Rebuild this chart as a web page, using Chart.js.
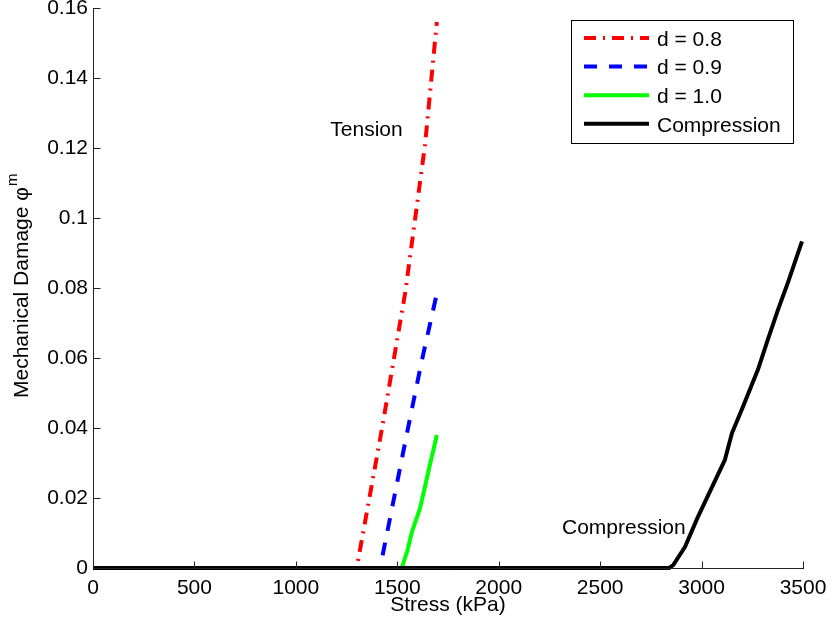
<!DOCTYPE html>
<html>
<head>
<meta charset="utf-8">
<script src="https://cdn.jsdelivr.net/npm/chart.js@4/dist/chart.umd.min.js"></script>
<style>
  html, body { margin: 0; padding: 0; background: #fff; }
  #wrap { width: 833px; height: 633px; }
</style>
</head>
<body>
<div id="wrap"><canvas id="c" width="833" height="633"></canvas></div>
<script>
// Axis ticks
const xTicks = [0, 500, 1000, 1500, 2000, 2500, 3000, 3500];
const yTicks = [0, 0.02, 0.04, 0.06, 0.08, 0.1, 0.12, 0.14, 0.16];

// Series names
const seriesLabels = ['d = 0.8', 'd = 0.9', 'd = 1.0', 'Compression'];

// Tension, d = 0.8
const d08Stress = [0, 1300, 1425, 1540, 1637, 1695];
const d08Damage = [0, 0, 0.040, 0.079, 0.121, 0.156];

// Tension, d = 0.9
const d09Stress = [0, 1415, 1553, 1620, 1696];
const d09Damage = [0, 0, 0.040, 0.059, 0.0787];

// Tension, d = 1.0
const d10Stress = [0, 1522, 1550, 1572, 1612, 1661, 1695];
const d10Damage = [0, 0, 0.005, 0.0103, 0.017, 0.0295, 0.038];

// Compression
const compStress = [0, 2840, 2860, 2918, 2982, 3115, 3150, 3204, 3278, 3327, 3377, 3426, 3495];
const compDamage = [0, 0, 0.0008, 0.006, 0.0146, 0.0309, 0.0386, 0.0461, 0.0567, 0.0653, 0.0738, 0.0816, 0.0933];

// Text labels placed in data coordinates
const noteTexts = ['Tension', 'Compression'];
const noteStress = [1170, 2312];
const noteDamage = [0.125, 0.0115];

const FONT = "'Liberation Sans', Arial, Helvetica, sans-serif";
const FSIZE = 21;

function pts(xs, ys) { return xs.map((x, i) => ({ x: x, y: ys[i] })); }

// Inward tick marks and the two axis lines, drawn over the data
const matAxes = {
  id: 'matAxes',
  afterDatasetsDraw(chart) {
    const { ctx, chartArea: a, scales } = chart;
    const L = Math.round(a.left) + 0.5, B = Math.round(a.bottom) + 0.5;
    ctx.save();
    ctx.strokeStyle = '#222';
    ctx.lineWidth = 1;
    ctx.beginPath();
    ctx.moveTo(L, Math.round(a.top));
    ctx.lineTo(L, B);
    ctx.lineTo(Math.round(a.right) + 1, B);
    xTicks.forEach(v => {
      const px = Math.round(scales.x.getPixelForValue(v)) + 0.5;
      ctx.moveTo(px, B);
      ctx.lineTo(px, B - 7);
    });
    yTicks.forEach(v => {
      const py = Math.round(scales.y.getPixelForValue(v)) + 0.5;
      ctx.moveTo(L, py);
      ctx.lineTo(L + 7, py);
    });
    ctx.stroke();
    ctx.restore();
  }
};

// Free text notes, rotated y title with superscript, boxed legend
const extras = {
  id: 'extras',
  afterDraw(chart) {
    const { ctx, scales } = chart;
    ctx.save();
    ctx.fillStyle = '#000';
    ctx.font = FSIZE + 'px ' + FONT;
    ctx.textBaseline = 'middle';
    ctx.textAlign = 'left';
    noteTexts.forEach((t, i) => {
      ctx.fillText(t, scales.x.getPixelForValue(noteStress[i]), scales.y.getPixelForValue(noteDamage[i]));
    });

    // y title
    ctx.save();
    ctx.translate(22, 398);
    ctx.rotate(-Math.PI / 2);
    const base = 'Mechanical Damage \u03C6';
    ctx.fillText(base, 0, 0);
    const w = ctx.measureText(base).width;
    ctx.font = '15px ' + FONT;
    ctx.fillText('m', w + 1, -9);
    ctx.restore();

    // legend
    const bx = 571.5, by = 20.5, bw = 222, bh = 123;
    ctx.fillStyle = '#fff';
    ctx.fillRect(bx, by, bw, bh);
    ctx.strokeStyle = '#000';
    ctx.lineWidth = 1;
    ctx.strokeRect(bx, by, bw, bh);
    ctx.font = FSIZE + 'px ' + FONT;
    ctx.fillStyle = '#000';
    chart.data.datasets.forEach((ds, i) => {
      const cy = 40 + i * 28.6;
      const ly = cy - 2;
      ctx.save();
      ctx.strokeStyle = ds.borderColor;
      ctx.lineWidth = ds.borderWidth;
      ctx.setLineDash(ds.borderDash || []);
      ctx.beginPath();
      ctx.moveTo(584, ly);
      ctx.lineTo(649, ly);
      ctx.stroke();
      ctx.restore();
      ctx.fillText(ds.label, 657, cy);
    });
    ctx.restore();
  }
};

const tickFont = { family: FONT, size: FSIZE };

new Chart(document.getElementById('c'), {
  type: 'line',
  data: {
    datasets: [
      { label: seriesLabels[0], data: pts(d08Stress, d08Damage), borderColor: '#ff0000', borderDash: [12, 7, 2, 7], order: 3 },
      { label: seriesLabels[1], data: pts(d09Stress, d09Damage), borderColor: '#0000ff', borderDash: [13, 12], order: 2 },
      { label: seriesLabels[2], data: pts(d10Stress, d10Damage), borderColor: '#00ff00', borderDash: [], order: 1 },
      { label: seriesLabels[3], data: pts(compStress, compDamage), borderColor: '#000000', borderDash: [], order: 0 }
    ].map(d => Object.assign({
      borderWidth: 4, pointRadius: 0, tension: 0, fill: false, clip: false,
      borderJoinStyle: 'round'
    }, d))
  },
  options: {
    responsive: false,
    animation: false,
    events: [],
    layout: { padding: { left: 0, top: 8, right: 30, bottom: 0 } },
    plugins: { legend: { display: false }, tooltip: { enabled: false } },
    scales: {
      x: {
        type: 'linear', position: 'bottom', min: 0, max: 3500,
        grid: { display: false, drawTicks: false },
        border: { display: false },
        ticks: {
          font: tickFont, color: '#000', padding: 8, autoSkip: false, maxRotation: 0,
          callback: v => String(v)
        },
        afterBuildTicks: s => { s.ticks = xTicks.map(v => ({ value: v })); },
        afterFit: s => { s.height = 65; s.paddingLeft = 0; s.paddingRight = 0; },
        title: { display: true, text: 'Stress (kPa)', font: tickFont, color: '#000', padding: { top: 0, bottom: 15 } }
      },
      y: {
        type: 'linear', position: 'left', min: 0, max: 0.16,
        grid: { display: false, drawTicks: false },
        border: { display: false },
        ticks: {
          font: tickFont, color: '#000', padding: 5, autoSkip: false,
          callback: v => String(Number(v.toFixed(2)))
        },
        afterBuildTicks: s => { s.ticks = yTicks.map(v => ({ value: v })); },
        afterFit: s => { s.width = 93; s.paddingTop = 0; s.paddingBottom = 0; }
      }
    }
  },
  plugins: [matAxes, extras]
});
</script>
</body>
</html>
